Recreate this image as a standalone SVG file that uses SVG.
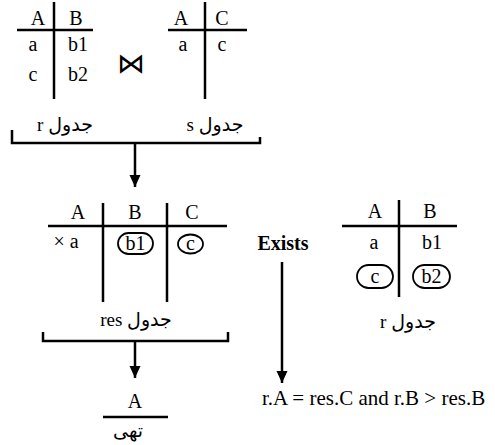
<svg xmlns="http://www.w3.org/2000/svg" width="495" height="445" viewBox="0 0 495 445">
<defs>
<marker id="ah" viewBox="0 0 12 12" markerWidth="12" markerHeight="12" refX="12" refY="6" orient="auto" markerUnits="userSpaceOnUse">
<path d="M0,0.5 L12,6 L0,11.5 Z" fill="#000"/>
</marker>
<style>
text{font-family:"Liberation Serif","DejaVu Sans",serif;font-size:20px;fill:#000;text-anchor:middle}
.ar{font-family:"Liberation Serif","DejaVu Sans",serif;font-size:19px;direction:rtl;unicode-bidi:embed}
.ln{stroke:#000;stroke-width:2.5;fill:none}
.pill{stroke:#000;stroke-width:1.8;fill:none}
.b{font-weight:bold}
</style>
</defs>
<rect width="495" height="445" fill="#fff"/>

<g id="table-r">
<line class="ln" x1="17" y1="30" x2="93" y2="30"/>
<line class="ln" x1="54" y1="2" x2="54" y2="99"/>
<text x="38" y="25">A</text>
<text x="76" y="25">B</text>
<text x="33" y="51">a</text>
<text x="78" y="51">b1</text>
<text x="33" y="81">c</text>
<text x="78" y="81">b2</text>
<text class="ar" x="65" y="131">جدول r</text>
</g>

<g id="join">
<text x="131" y="73" style="font-family:'DejaVu Sans',sans-serif;font-size:28px">⋈</text>
</g>

<g id="table-s">
<line class="ln" x1="168" y1="30" x2="247" y2="30"/>
<line class="ln" x1="205" y1="2" x2="205" y2="99"/>
<text x="181" y="25">A</text>
<text x="222" y="25">C</text>
<text x="183" y="51">a</text>
<text x="222" y="51">c</text>
<text class="ar" x="215" y="131">جدول s</text>
</g>

<g id="table-res">
<line class="ln" x1="48" y1="226" x2="227" y2="226"/>
<line class="ln" x1="103" y1="203" x2="103" y2="302"/>
<line class="ln" x1="167" y1="203" x2="167" y2="302"/>
<text x="78" y="219">A</text>
<text x="135" y="219">B</text>
<text x="192" y="219">C</text>
<text x="66" y="248">× a</text>
<rect class="pill" x="118" y="233" width="35" height="21" rx="10.5"/>
<text x="135.5" y="250">b1</text>
<ellipse class="pill" cx="190.5" cy="244" rx="12.5" ry="9.5"/>
<text x="190.5" y="250">c</text>
<text class="ar" x="136" y="326">جدول res</text>
</g>

<g id="result">
<text x="135" y="408">A</text>
<line class="ln" x1="103" y1="417" x2="168" y2="417"/>
<text class="ar" x="128" y="437">تهی</text>
</g>

<g id="exists">
<text class="b" x="283" y="250">Exists</text>
</g>

<g id="table-r2">
<line class="ln" x1="342" y1="226" x2="457" y2="226"/>
<line class="ln" x1="399" y1="200" x2="399" y2="297"/>
<text x="375" y="218">A</text>
<text x="430" y="218">B</text>
<text x="374" y="249">a</text>
<text x="432" y="249">b1</text>
<rect class="pill" x="357" y="265" width="36" height="23" rx="11.5"/>
<text x="375" y="283">c</text>
<rect class="pill" x="413" y="265" width="37" height="23" rx="11.5"/>
<text x="431.5" y="283">b2</text>
<text class="ar" x="408" y="328">جدول r</text>
</g>

<g id="condition">
<text x="262" y="405" style="text-anchor:start;font-size:21px">r.A = res.C and r.B &gt; res.B</text>
</g>

<g id="connectors">
<path class="ln" d="M12,130 V143 H260 V137"/>
<line class="ln" x1="135" y1="143" x2="135" y2="187" marker-end="url(#ah)"/>
<path class="ln" d="M43,332 V341 H228 V332"/>
<line class="ln" x1="135" y1="341" x2="135" y2="378" marker-end="url(#ah)"/>
<line class="ln" x1="282" y1="262" x2="282" y2="383" marker-end="url(#ah)"/>
</g>
</svg>
